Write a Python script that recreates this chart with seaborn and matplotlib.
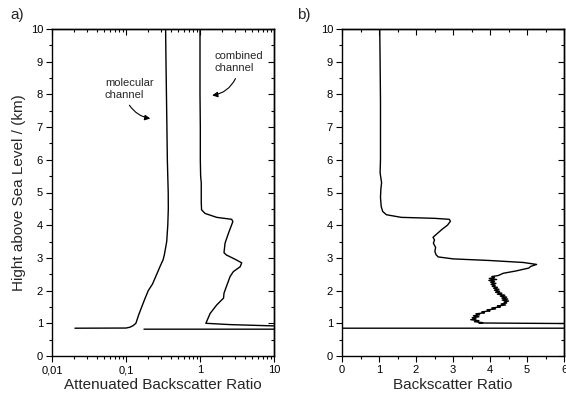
import numpy as np
import pandas as pd
import matplotlib
matplotlib.use('Agg')
import matplotlib.pyplot as plt
import matplotlib.ticker as mticker
import seaborn as sns

# -----------------------
# panel a) attenuated backscatter ratio, height above sea level (km)

mol_ratio = [0.343, 0.347, 0.352, 0.357, 0.362, 0.372, 0.373, 0.367, 0.355,
	0.33, 0.318, 0.29, 0.26, 0.228, 0.2, 0.18, 0.163, 0.148, 0.136, 0.125,
	0.113, 0.1, 0.0204]
mol_height = [10, 9, 8, 7, 6, 5, 4.5, 4, 3.5,
	3.1, 2.95, 2.75, 2.5, 2.2, 2.0, 1.75, 1.5, 1.25, 1.0, 0.93,
	0.88, 0.855, 0.85]

comb_ratio = [1.0, 1.0, 1.0, 1.01, 1.01, 1.02, 1.04, 1.04, 1.04, 1.05, 1.17,
	1.68, 2.68, 2.78, 2.42, 2.18, 2.11, 2.27, 2.97, 3.66, 3.49, 2.82, 2.55,
	2.27, 2.11, 2.08, 1.68, 1.37, 1.2, 2.55, 10, 30, 30, 0.175]
comb_height = [10, 9, 8, 7, 6, 5.5, 5.3, 5.0, 4.7, 4.47, 4.36,
	4.24, 4.18, 4.11, 3.75, 3.45, 3.16, 3.09, 2.96, 2.85, 2.73, 2.58, 2.43,
	2.12, 1.92, 1.77, 1.56, 1.30, 1.0, 0.96, 0.92, 0.88, 0.82, 0.82]

# panel b) backscatter ratio

bsr_ratio = [1.02, 1.03, 1.04, 1.04, 1.03, 1.07, 1.05, 1.04, 1.06, 1.1, 1.2,
	1.6, 2.5, 2.9, 2.93, 2.85, 2.7, 2.55, 2.46, 2.5, 2.47, 2.53, 2.51, 2.54,
	2.6, 3.0, 4.0, 4.9, 5.26, 5.1, 5.05, 4.7, 4.36, 4.22,
	4.05, 4.12, 3.98, 4.18, 3.97, 4.12, 4.02, 4.16, 4.03, 4.14, 4.06,
	4.2, 4.1, 4.24, 4.12, 4.26, 4.15, 4.32, 4.2, 4.4, 4.28, 4.45, 4.32,
	4.48, 4.33, 4.5, 4.38, 4.45, 4.3, 4.42, 4.2, 4.28, 4.05, 4.15, 3.92,
	4.0, 3.78, 3.85, 3.62, 3.72, 3.55, 3.7, 3.52, 3.62, 3.48, 3.7, 3.58,
	3.8, 3.7, 5.0, 6.5, 6.5, -0.5]
bsr_height = [10, 9, 7.8, 6, 5.6, 5.3, 5.1, 4.85, 4.57, 4.42, 4.32,
	4.24, 4.21, 4.18, 4.12, 4.0, 3.87, 3.72, 3.63, 3.55, 3.45, 3.32, 3.2, 3.1,
	3.03, 2.97, 2.92, 2.86, 2.8, 2.74, 2.69, 2.6, 2.53, 2.46,
	2.43, 2.40, 2.37, 2.34, 2.31, 2.28, 2.25, 2.22, 2.19, 2.16, 2.13,
	2.10, 2.07, 2.04, 2.01, 1.98, 1.95, 1.92, 1.89, 1.86, 1.83, 1.80, 1.77,
	1.74, 1.71, 1.68, 1.65, 1.62, 1.59, 1.56, 1.53, 1.50, 1.47, 1.44, 1.41,
	1.38, 1.35, 1.32, 1.29, 1.26, 1.23, 1.20, 1.17, 1.14, 1.11, 1.08, 1.05,
	1.02, 1.01, 1.0, 0.99, 0.85, 0.85]

xa_ticks = [0.01, 0.1, 1, 10]
xa_labels = ['0,01', '0,1', '1', '10']
xb_ticks = [0, 1, 2, 3, 4, 5, 6]
y_ticks = list(range(0, 11))

# -----------------------

sns.set_style('ticks')
plt.rcParams['font.family'] = ['Liberation Sans', 'DejaVu Sans']
plt.rcParams['axes.edgecolor'] = 'black'
plt.rcParams['axes.linewidth'] = 1.0

fig = plt.figure(figsize=(5.66, 4.0), dpi=100)
ax1 = fig.add_axes([52/566, 44/400, 222/566, 327/400])
ax2 = fig.add_axes([342/566, 44/400, 222/566, 327/400])

df_mol = pd.DataFrame({'ratio': mol_ratio, 'height': mol_height})
df_comb = pd.DataFrame({'ratio': comb_ratio, 'height': comb_height})
df_bsr = pd.DataFrame({'ratio': bsr_ratio, 'height': bsr_height})

lw = 1.0
sns.lineplot(data=df_mol, x='ratio', y='height', sort=False, estimator=None,
	color='black', lw=lw, ax=ax1)
sns.lineplot(data=df_comb, x='ratio', y='height', sort=False, estimator=None,
	color='black', lw=lw, ax=ax1)
sns.lineplot(data=df_bsr, x='ratio', y='height', sort=False, estimator=None,
	color='black', lw=lw, ax=ax2)

def style_axes(ax):
	ax.set_ylim(0, 10)
	ax.set_yticks(y_ticks)
	ax.yaxis.set_minor_locator(mticker.MultipleLocator(0.5))
	ax.tick_params(which='both', direction='out', colors='black',
		labelsize=8, width=0.8, top=False, right=False)
	ax.tick_params(which='major', length=4.5, pad=2)
	ax.tick_params(which='minor', length=2.5)
	for s in ax.spines.values():
		s.set_visible(True)
		s.set_color('black')
		s.set_linewidth(1.0)

# panel a
ax1.set_xscale('log')
ax1.set_xlim(0.01, 10)
ax1.set_xticks(xa_ticks)
ax1.set_xticklabels(xa_labels)
ax1.xaxis.set_minor_locator(mticker.LogLocator(base=10, subs=np.arange(2, 10)))
ax1.xaxis.set_minor_formatter(mticker.NullFormatter())
style_axes(ax1)
ax1.set_xlabel('Attenuated Backscatter Ratio', fontsize=11, labelpad=2)
ax1.set_ylabel('Hight above Sea Level / (km)', fontsize=11, labelpad=3)

# panel b
ax2.set_xlim(0, 6)
ax2.set_xticks(xb_ticks)
ax2.xaxis.set_minor_locator(mticker.MultipleLocator(0.5))
style_axes(ax2)
ax2.set_xlabel('Backscatter Ratio', fontsize=11, labelpad=2)
ax2.set_ylabel('')

# mirror ticks pointing inwards on top / right
for ax, log in [(ax1, True), (ax2, False)]:
	top = ax.secondary_xaxis('top')
	right = ax.secondary_yaxis('right')
	if log:
		top.set_xticks(xa_ticks)
		top.xaxis.set_minor_locator(mticker.LogLocator(base=10, subs=np.arange(2, 10)))
	else:
		top.set_xticks(xb_ticks)
		top.xaxis.set_minor_locator(mticker.MultipleLocator(0.5))
	right.set_yticks(y_ticks)
	right.yaxis.set_minor_locator(mticker.MultipleLocator(0.5))
	for sec in (top, right):
		sec.tick_params(which='both', direction='in', colors='black', width=0.8,
			labeltop=False, labelright=False, labelbottom=False, labelleft=False)
		sec.tick_params(which='major', length=4.5)
		sec.tick_params(which='minor', length=2.5)
		for s in sec.spines.values():
			s.set_linewidth(1.0)

# annotations
ax1.text(0.052, 8.18, 'molecular\nchannel', fontsize=8, ha='left', va='center',
	linespacing=1.25)
ax1.annotate('', xy=(0.232, 7.25), xytext=(0.106, 7.74),
	arrowprops=dict(arrowstyle='-|>', color='black', lw=0.8,
		mutation_scale=8, connectionstyle='arc3,rad=0.25'))
ax1.text(1.55, 8.98, 'combined\nchannel', fontsize=8, ha='left', va='center',
	linespacing=1.25)
ax1.annotate('', xy=(1.34, 7.96), xytext=(3.13, 8.56),
	arrowprops=dict(arrowstyle='-|>', color='black', lw=0.8,
		mutation_scale=8, connectionstyle='arc3,rad=-0.3'))

fig.text(10/566, 1 - 15/400, 'a)', fontsize=11, ha='left', va='center')
fig.text(297/566, 1 - 15/400, 'b)', fontsize=11, ha='left', va='center')

plt.savefig('out.png', dpi=100)
